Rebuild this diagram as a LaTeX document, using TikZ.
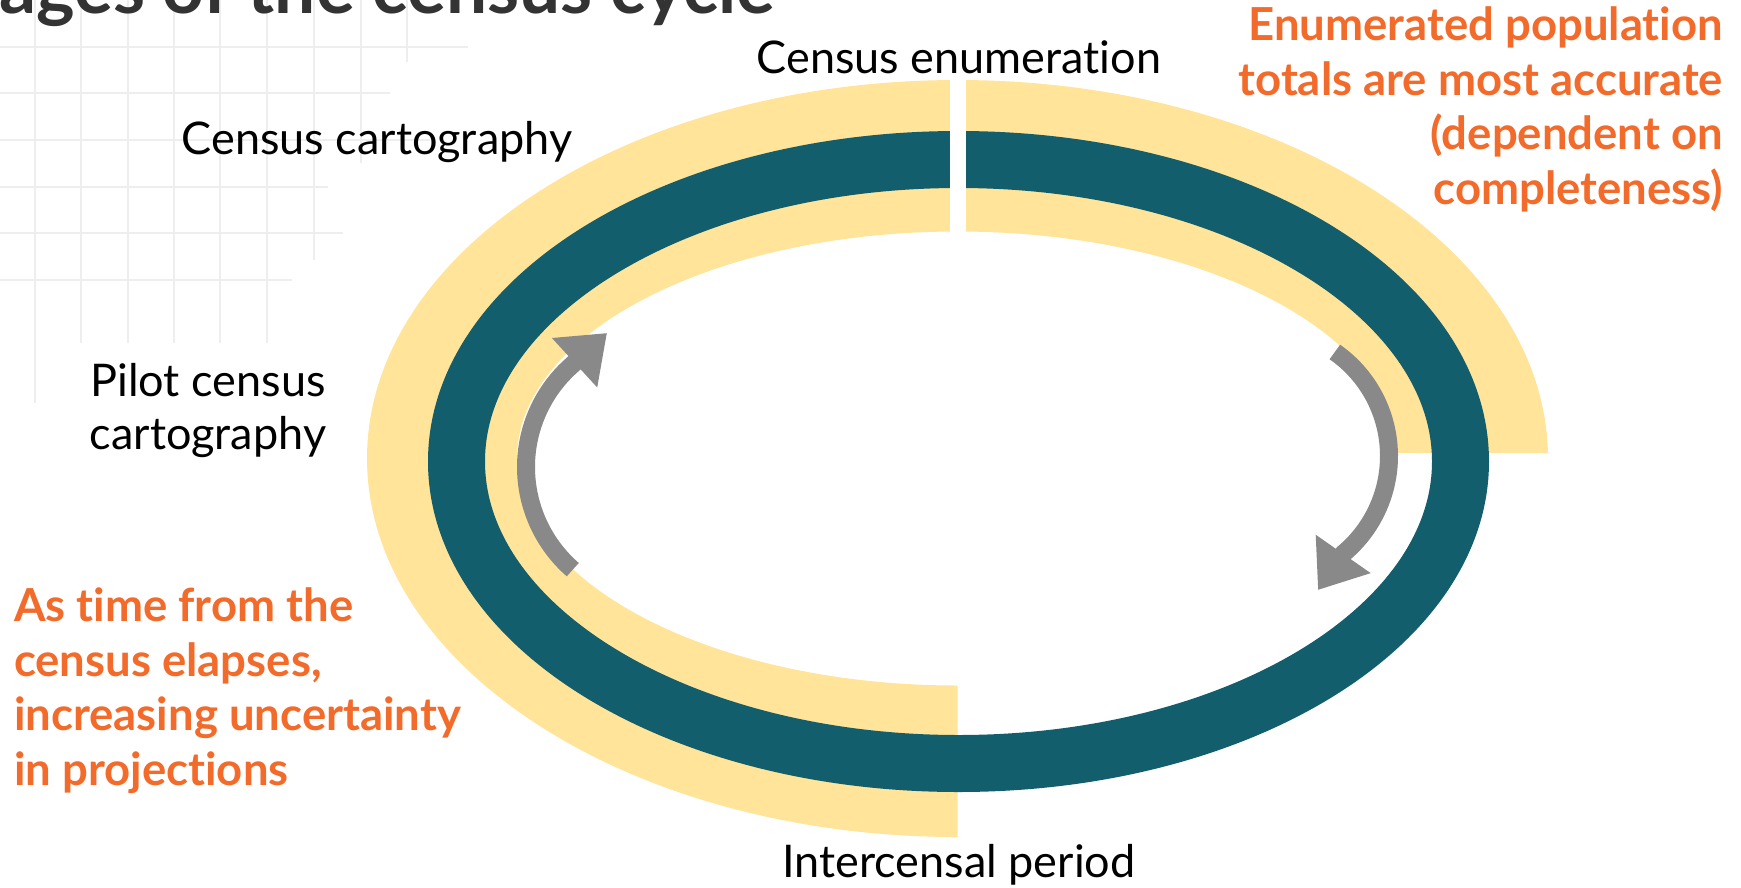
\documentclass[tikz,border=0pt]{standalone}
\usepackage{fontspec}
\setmainfont{Lato}[Ligatures=CommonOff]
\usetikzlibrary{arrows.meta}

\definecolor{ringteal}{HTML}{135E6C}
\definecolor{bandyellow}{HTML}{FFE499}
\definecolor{arrowgray}{HTML}{898989}
\definecolor{noteorange}{HTML}{F26B2B}
\definecolor{gridgray}{HTML}{EEEEEE}
\definecolor{titlegray}{HTML}{333333}

\begin{document}
\begin{tikzpicture}[
    x=1pt, y=1pt,
    every node/.style={inner sep=0pt, outer sep=0pt},
    stage/.style={font=\fontsize{45}{53}\selectfont, text=black},
    note/.style={font=\bfseries\fontsize{45.5}{54.5}\selectfont, text=noteorange},
    cyclearrow/.style={arrowgray, line width=18pt, -{Triangle[length=44pt,width=64pt]}},
]
    \useasboundingbox (0,0) rectangle (1741,-887);
    \clip (0,0) rectangle (1741,-887);

    % faded grid behind the title
    \foreach \x/\len in {35/403,81/343,128/343,174/343,220/343,267/343,314/260,361/163,407/62}
        \draw[gridgray, line width=2pt] (\x,0) -- (\x,-\len);
    \foreach \y/\len in {47/468,93/390,140/430,187/328,233/343,280/292}
        \draw[gridgray, line width=2pt] (0,-\y) -- (\len,-\y);

    \node[anchor=base west, font=\bfseries\fontsize{73}{80}\selectfont, text=titlegray] (title) at (-1,-13) {ages of the census cycle};

    % yellow band, open at the bottom right
    \coordinate (bandc) at (957.5,-458.5);
    \fill[bandyellow] (bandc) ++(0.8:590.5 and 378.5)
        arc[start angle=0.8, end angle=270, x radius=590.5, y radius=378.5]
        -- ++(0,151.5)
        arc[start angle=270, end angle=1.4, x radius=440.5, y radius=227] -- cycle;

    % the cycle itself
    \draw[ringteal, line width=57pt] (958.5,-461.5) ellipse[x radius=502, y radius=302];
    \fill[white] (950,-70) rectangle (966,-240); % break at enumeration

    \draw[cyclearrow] (662,-467) ++(229:136) arc[start angle=229, end angle=131, radius=136] -- (607,-333);
    \draw[cyclearrow] (1262,-456) ++(55:127) arc[start angle=55, end angle=-50, radius=127] -- (1318,-590);

    \node[stage, anchor=base] (enum) at (959,-73) {Census enumeration};
    \node[stage, anchor=base] (carto) at (377,-154) {Census cartography};
    \node[stage, align=center, anchor=base] (pilot) at (208,-449) {Pilot census\\cartography};
    \node[stage, anchor=base] (inter) at (959,-877) {Intercensal period};

    % base anchor sits on the last line
    \node[note, align=right, anchor=base east] (accurate) at (1723,-204)
        {Enumerated population\\totals are most accurate\\(dependent on\\completeness)};
    \node[note, align=left, anchor=base west] (uncertain) at (14,-785)
        {As time from the\\census elapses,\\increasing uncertainty\\in projections};
\end{tikzpicture}
\end{document}
